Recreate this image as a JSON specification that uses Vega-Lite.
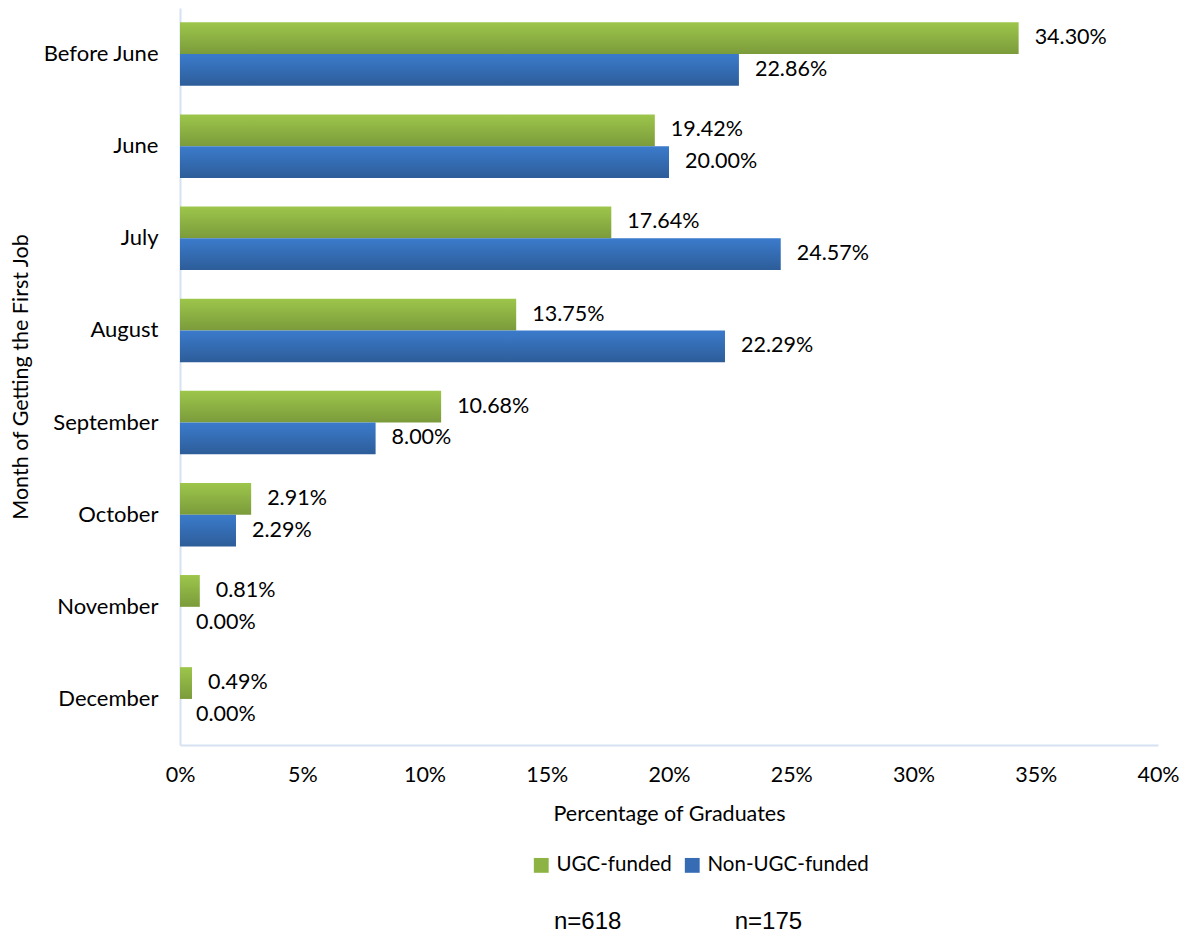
{
  "$schema": "https://vega.github.io/schema/vega-lite/v6.json",
  "width": 978,
  "height": 737,
  "autosize": {"type": "none"},
  "padding": {"left": 180, "top": 8, "right": 31, "bottom": 190},
  "background": "white",
  "config": {
    "view": {"stroke": null},
    "font": "Lato"
  },
  "title": {
    "text": "n=618\u00a0\u00a0\u00a0\u00a0\u00a0\u00a0\u00a0\u00a0\u00a0\u00a0\u00a0\u00a0\u00a0\u00a0\u00a0\u00a0\u00a0n=175",
    "orient": "bottom",
    "anchor": "middle",
    "dx": 9,
    "font": "Liberation Sans",
    "fontSize": 24,
    "fontWeight": "normal",
    "color": "#000000",
    "offset": 34
  },
  "data": {
    "values": [
      {"month": "Before June", "group": "UGC-funded", "pct": 0.3430},
      {"month": "Before June", "group": "Non-UGC-funded", "pct": 0.2286},
      {"month": "June", "group": "UGC-funded", "pct": 0.1942},
      {"month": "June", "group": "Non-UGC-funded", "pct": 0.2000},
      {"month": "July", "group": "UGC-funded", "pct": 0.1764},
      {"month": "July", "group": "Non-UGC-funded", "pct": 0.2457},
      {"month": "August", "group": "UGC-funded", "pct": 0.1375},
      {"month": "August", "group": "Non-UGC-funded", "pct": 0.2229},
      {"month": "September", "group": "UGC-funded", "pct": 0.1068},
      {"month": "September", "group": "Non-UGC-funded", "pct": 0.0800},
      {"month": "October", "group": "UGC-funded", "pct": 0.0291},
      {"month": "October", "group": "Non-UGC-funded", "pct": 0.0229},
      {"month": "November", "group": "UGC-funded", "pct": 0.0081},
      {"month": "November", "group": "Non-UGC-funded", "pct": 0.0000},
      {"month": "December", "group": "UGC-funded", "pct": 0.0049},
      {"month": "December", "group": "Non-UGC-funded", "pct": 0.0000}
    ]
  },
  "encoding": {
    "y": {
      "field": "month",
      "type": "nominal",
      "sort": ["Before June", "June", "July", "August", "September", "October", "November", "December"],
      "scale": {"paddingInner": 0.31, "paddingOuter": 0.155},
      "axis": {
        "title": "Month of Getting the First Job",
        "titleFont": "Lato",
        "titleFontSize": 21.5,
        "titleFontWeight": "normal",
        "titleColor": "#000000",
        "titlePadding": 10,
        "labelFont": "Lato",
        "labelFontSize": 22,
        "labelColor": "#000000",
        "labelPadding": 22,
        "ticks": false,
        "domainColor": "#d6e1f2",
        "domainWidth": 2
      }
    },
    "yOffset": {
      "field": "group",
      "type": "nominal",
      "sort": ["UGC-funded", "Non-UGC-funded"]
    },
    "x": {
      "field": "pct",
      "type": "quantitative",
      "scale": {"domain": [0, 0.4], "nice": false},
      "axis": {
        "title": "Percentage of Graduates",
        "titleFont": "Lato",
        "titleFontSize": 21.5,
        "titleFontWeight": "normal",
        "titleColor": "#000000",
        "titlePadding": 18,
        "labelFont": "Lato",
        "labelFontSize": 21.5,
        "labelColor": "#000000",
        "labelPadding": 19,
        "labelFlush": false,
        "format": ".0%",
        "values": [0, 0.05, 0.1, 0.15, 0.2, 0.25, 0.3, 0.35, 0.4],
        "grid": false,
        "ticks": false,
        "domainColor": "#d6e1f2",
        "domainWidth": 2
      }
    }
  },
  "layer": [
    {
      "mark": {"type": "bar", "opacity": 0},
      "encoding": {
        "color": {
          "field": "group",
          "type": "nominal",
          "sort": ["UGC-funded", "Non-UGC-funded"],
          "scale": {
            "domain": ["UGC-funded", "Non-UGC-funded"],
            "range": ["#8cb344", "#356cb3"]
          },
          "legend": {
            "title": null,
            "orient": "none",
            "legendX": 351,
            "legendY": 847,
            "direction": "horizontal",
            "symbolType": "square",
            "symbolSize": 220,
            "symbolStrokeWidth": 0,
            "symbolOpacity": 1,
            "labelFont": "Lato",
            "labelFontSize": 20.5,
            "labelColor": "#000000",
            "labelLimit": 400,
            "labelOffset": 5,
            "columnPadding": 10
          }
        }
      }
    },
    {
      "mark": {"type": "bar"},
      "encoding": {
        "fill": {
          "condition": {
            "test": "datum.group === 'UGC-funded'",
            "value": {"gradient": "linear", "x1": 0, "y1": 0, "x2": 0, "y2": 1, "stops": [{"offset": 0, "color": "#9dc64b"}, {"offset": 1, "color": "#7b9b3b"}]}
          },
          "value": {"gradient": "linear", "x1": 0, "y1": 0, "x2": 0, "y2": 1, "stops": [{"offset": 0, "color": "#3b7bcc"}, {"offset": 1, "color": "#2d5d99"}]}
        }
      }
    },
    {
      "mark": {"type": "text", "align": "left", "baseline": "middle", "dx": 16, "font": "Lato", "fontSize": 21.5, "color": "#000000"},
      "encoding": {
        "text": {"field": "pct", "type": "quantitative", "format": ".2%"}
      }
    }
  ]
}
